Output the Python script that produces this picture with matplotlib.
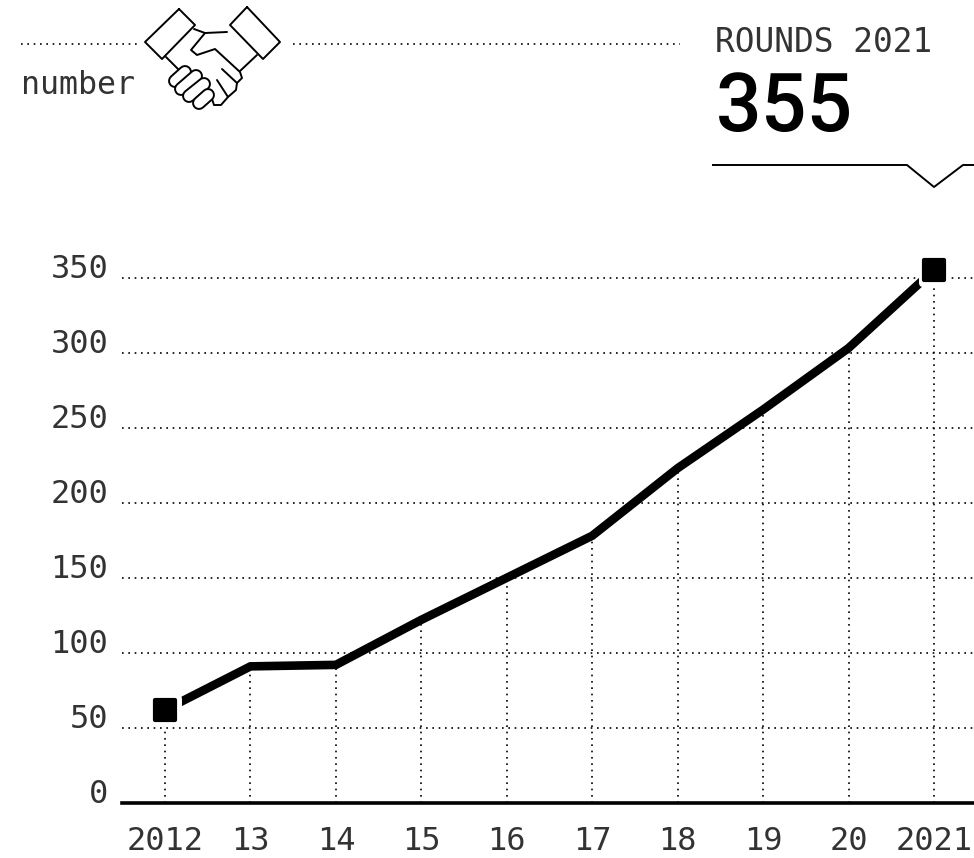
import matplotlib
matplotlib.use("Agg")
import matplotlib.pyplot as plt
from matplotlib.markers import MarkerStyle
from matplotlib.ticker import FixedLocator, FixedFormatter

# data
years = [2012, 2013, 2014, 2015, 2016, 2017, 2018, 2019, 2020, 2021]
rounds = [62, 91, 92, 122, 150, 178, 223, 262, 303, 355]
year_labels = ["2012", "13", "14", "15", "16", "17", "18", "19", "20", "2021"]
y_ticks = [0, 50, 100, 150, 200, 250, 300, 350]

W, H = 974, 858
mono = "DejaVu Sans Mono"
ink = "#333333"

fig = plt.figure(figsize=(W / 100, H / 100), dpi=100, facecolor="white")

# header layer in pixel coords
top = fig.add_axes([0, 0, 1, 1])
top.set_xlim(0, W)
top.set_ylim(H, 0)
top.axis("off")

dots = dict(color="black", lw=1.2, ls=(0, (1, 2.8)))
top.plot([21, 140], [44, 44], **dots)
top.plot([293, 680], [44, 44], **dots)
top.text(21, 85, "number", family=mono, fontsize=22.8, color=ink, va="center", ha="left")
top.text(715, 42, "ROUNDS 2021", family=mono, fontsize=23.6, color=ink, va="center", ha="left")
top.text(716, 109, "355", family="Roboto", fontsize=58, weight=500, color="black", va="center", ha="left")
top.plot([713, 907, 934, 963, 974], [165, 165, 187, 165, 165], color="black", lw=1.4)


# handshake icon, pixel coords
def icon(xs, ys):
    top.plot(xs, ys, color="black", lw=1.4, solid_capstyle="round", solid_joinstyle="round")


icon([179, 195, 162, 145, 179], [9, 25, 59, 42, 9])
icon([247, 280, 263, 230, 247], [7, 42, 59, 25, 7])
icon([194, 205, 227], [29, 33, 32])
icon([205, 191, 197, 215, 240, 242, 237], [33, 50, 55, 49, 72, 78, 83])
icon([166, 179], [57, 70])
icon([257, 240], [55, 71])
icon([222, 237], [69, 83])
icon([237, 236, 228, 217], [83, 90, 97, 80])
icon([228, 221, 214, 210], [97, 105, 105, 93])

# finger capsules, each one outline then fill so the edges between them stay
fingers = [(175, 81, 185, 72), (181, 89, 196, 76), (189, 96, 204, 84), (199, 103, 208, 95)]
for (x0, y0, x1, y1) in fingers:
    top.plot([x0, x1], [y0, y1], color="black", lw=10, solid_capstyle="round")
    top.plot([x0, x1], [y0, y1], color="white", lw=7.2, solid_capstyle="round")

# chart: x axis 122..974 px, y axis 803 (0) .. 277.5 (350)
px_year = 85.44
ax = fig.add_axes([122 / W, (H - 803) / H, (W - 122) / W, (803 - 200) / H])
ax.patch.set_alpha(0)
ax.set_xlim(2012 - (165 - 122) / px_year, 2021 + (974 - 934) / px_year)
ax.set_ylim(0, 350 * (803 - 200) / (803 - 277.5))

for y in y_ticks[1:]:
    ax.axhline(y, **dots, zorder=1)
for x, r in zip(years, rounds):
    ax.plot([x, x], [0, r], **dots, zorder=1)

ax.plot(years, rounds, color="black", lw=6.2, solid_joinstyle="miter", solid_capstyle="butt", zorder=3)

# end markers: white halo cuts the line, rounded black square on top
ends_x = [years[0], years[-1]]
ends_y = [rounds[0], rounds[-1]]
ax.plot(ends_x, ends_y, ls="none", marker=MarkerStyle("s", joinstyle="round"), ms=18, mfc="white",
        mec="white", mew=5, zorder=4, clip_on=False)
ax.plot(ends_x, ends_y, ls="none", marker=MarkerStyle("s", joinstyle="round"), ms=14, mfc="black",
        mec="black", mew=3, zorder=5, clip_on=False)

for side in ["top", "right", "left"]:
    ax.spines[side].set_visible(False)
ax.spines["bottom"].set_linewidth(2.6)

ax.xaxis.set_major_locator(FixedLocator(years))
ax.xaxis.set_major_formatter(FixedFormatter(year_labels))
ax.yaxis.set_major_locator(FixedLocator(y_ticks))
ax.tick_params(axis="both", length=0, labelcolor=ink)
ax.tick_params(axis="x", pad=16.5)
ax.tick_params(axis="y", pad=10)
for t in ax.get_xticklabels() + ax.get_yticklabels():
    t.set_family(mono)
    t.set_fontsize(23)
for t in ax.get_yticklabels():
    t.set_verticalalignment("baseline")

fig.savefig("out.png", dpi=100)
